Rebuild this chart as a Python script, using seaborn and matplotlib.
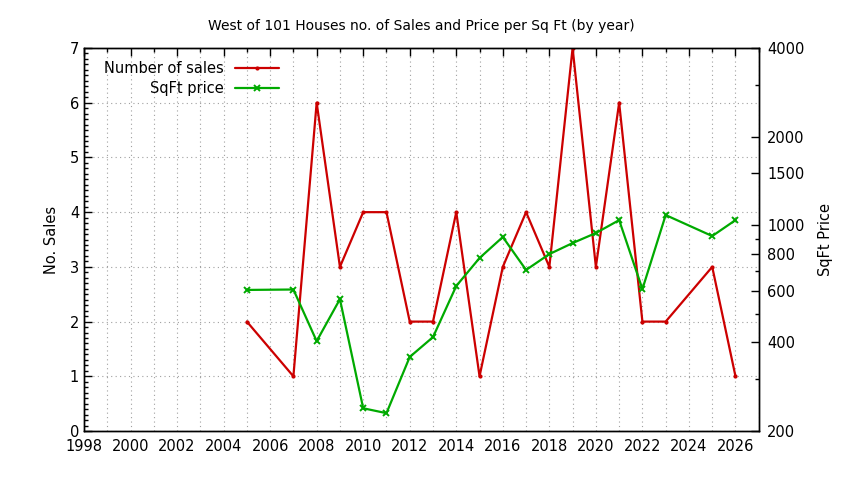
import numpy as np
import pandas as pd
import matplotlib
matplotlib.use("Agg")
import matplotlib.pyplot as plt
import seaborn as sns
from matplotlib.ticker import MultipleLocator, FixedLocator, FixedFormatter, NullFormatter

# data
years = [2005, 2007, 2008, 2009, 2010, 2011, 2012, 2013, 2014, 2015,
         2016, 2017, 2018, 2019, 2020, 2021, 2022, 2023, 2025, 2026]
n_sales = [2, 1, 6, 3, 4, 4, 2, 2, 4, 1,
           3, 4, 3, 7, 3, 6, 2, 2, 3, 1]
sqft_price = [603, 605, 404, 561, 239, 230, 357, 417, 622, 774,
              912, 705, 798, 870, 941, 1041, 607, 1083, 919, 1041]

price_major = [200, 400, 600, 800, 1000, 1500, 2000, 4000]
price_minor = [300, 500, 700, 900, 3000]

title = "West of 101 Houses no. of Sales and Price per Sq Ft (by year)"

df = pd.DataFrame({"year": years, "sales": n_sales, "price": sqft_price})

sns.set_style("white")
plt.rcParams["font.family"] = ["DejaVu Sans"]
plt.rcParams["font.size"] = 10
plt.rcParams["text.color"] = "black"
plt.rcParams["axes.labelcolor"] = "black"
plt.rcParams["xtick.color"] = "black"
plt.rcParams["ytick.color"] = "black"

red = "#cc0000"
green = "#00aa00"

fig = plt.figure(figsize=(8.44, 4.8), dpi=100)
ax = fig.add_axes([0.0995, 0.102, 0.7995, 0.798])
ax2 = ax.twinx()

# sales on the left axis
sns.lineplot(data=df, x="year", y="sales", ax=ax, color=red, lw=1.6,
             marker="o", markersize=3, markeredgewidth=0, markerfacecolor=red,
             label="Number of sales", legend=False)
# price on the right (log) axis
sns.lineplot(data=df, x="year", y="price", ax=ax2, color=green, lw=1.6,
             marker="x", markersize=4, markeredgewidth=1.4, markeredgecolor=green,
             label="SqFt price", legend=False)

ax.set_xlim(1998, 2027)
ax.set_ylim(0, 7)
ax2.set_yscale("log")
ax2.set_ylim(200, 4000)

ax.xaxis.set_major_locator(MultipleLocator(2))
ax.xaxis.set_minor_locator(MultipleLocator(1))
ax.yaxis.set_major_locator(MultipleLocator(1))
ax.yaxis.set_minor_locator(MultipleLocator(0.1))
ax2.yaxis.set_major_locator(FixedLocator(price_major))
ax2.yaxis.set_major_formatter(FixedFormatter([str(v) for v in price_major]))
ax2.yaxis.set_minor_locator(FixedLocator(price_minor))
ax2.yaxis.set_minor_formatter(NullFormatter())

ax.tick_params(axis="x", which="both", direction="in", top=True, pad=6)
ax.tick_params(axis="x", which="major", length=6, width=1)
ax.tick_params(axis="x", which="minor", length=3, width=1)
ax.tick_params(axis="y", which="major", direction="in", length=6, width=1, right=False)
ax.tick_params(axis="y", which="minor", direction="in", length=3, width=1, right=False)
ax2.tick_params(axis="y", which="both", direction="in", width=1, pad=6)
ax2.tick_params(axis="y", which="major", length=6)
ax2.tick_params(axis="y", which="minor", length=3)
ax.tick_params(labelsize=10.5)
ax2.tick_params(labelsize=10.5)

ax.grid(True, which="both", axis="x", color="#a0a0a0", ls=(0, (1, 3)), lw=0.8)
ax.grid(True, which="major", axis="y", color="#a0a0a0", ls=(0, (1, 3)), lw=0.8)
ax2.grid(False)

for a in (ax, ax2):
    for s in a.spines.values():
        s.set_color("black")
        s.set_linewidth(1)

ax.set_xlabel("")
ax.set_ylabel("No. Sales", labelpad=8, fontsize=10.5)
ax2.set_ylabel("SqFt Price", labelpad=10, fontsize=10.5)
ax.set_title(title, fontsize=10, pad=13)

h1, l1 = ax.get_legend_handles_labels()
h2, l2 = ax2.get_legend_handles_labels()
leg = ax2.legend(h1 + h2, l1 + l2, loc="upper left", bbox_to_anchor=(0.01, 1.0),
                 frameon=False, markerfirst=False, handlelength=3.0,
                 handletextpad=0.8, labelspacing=0.35, fontsize=10.5)

fig.savefig("out.png", dpi=100)
